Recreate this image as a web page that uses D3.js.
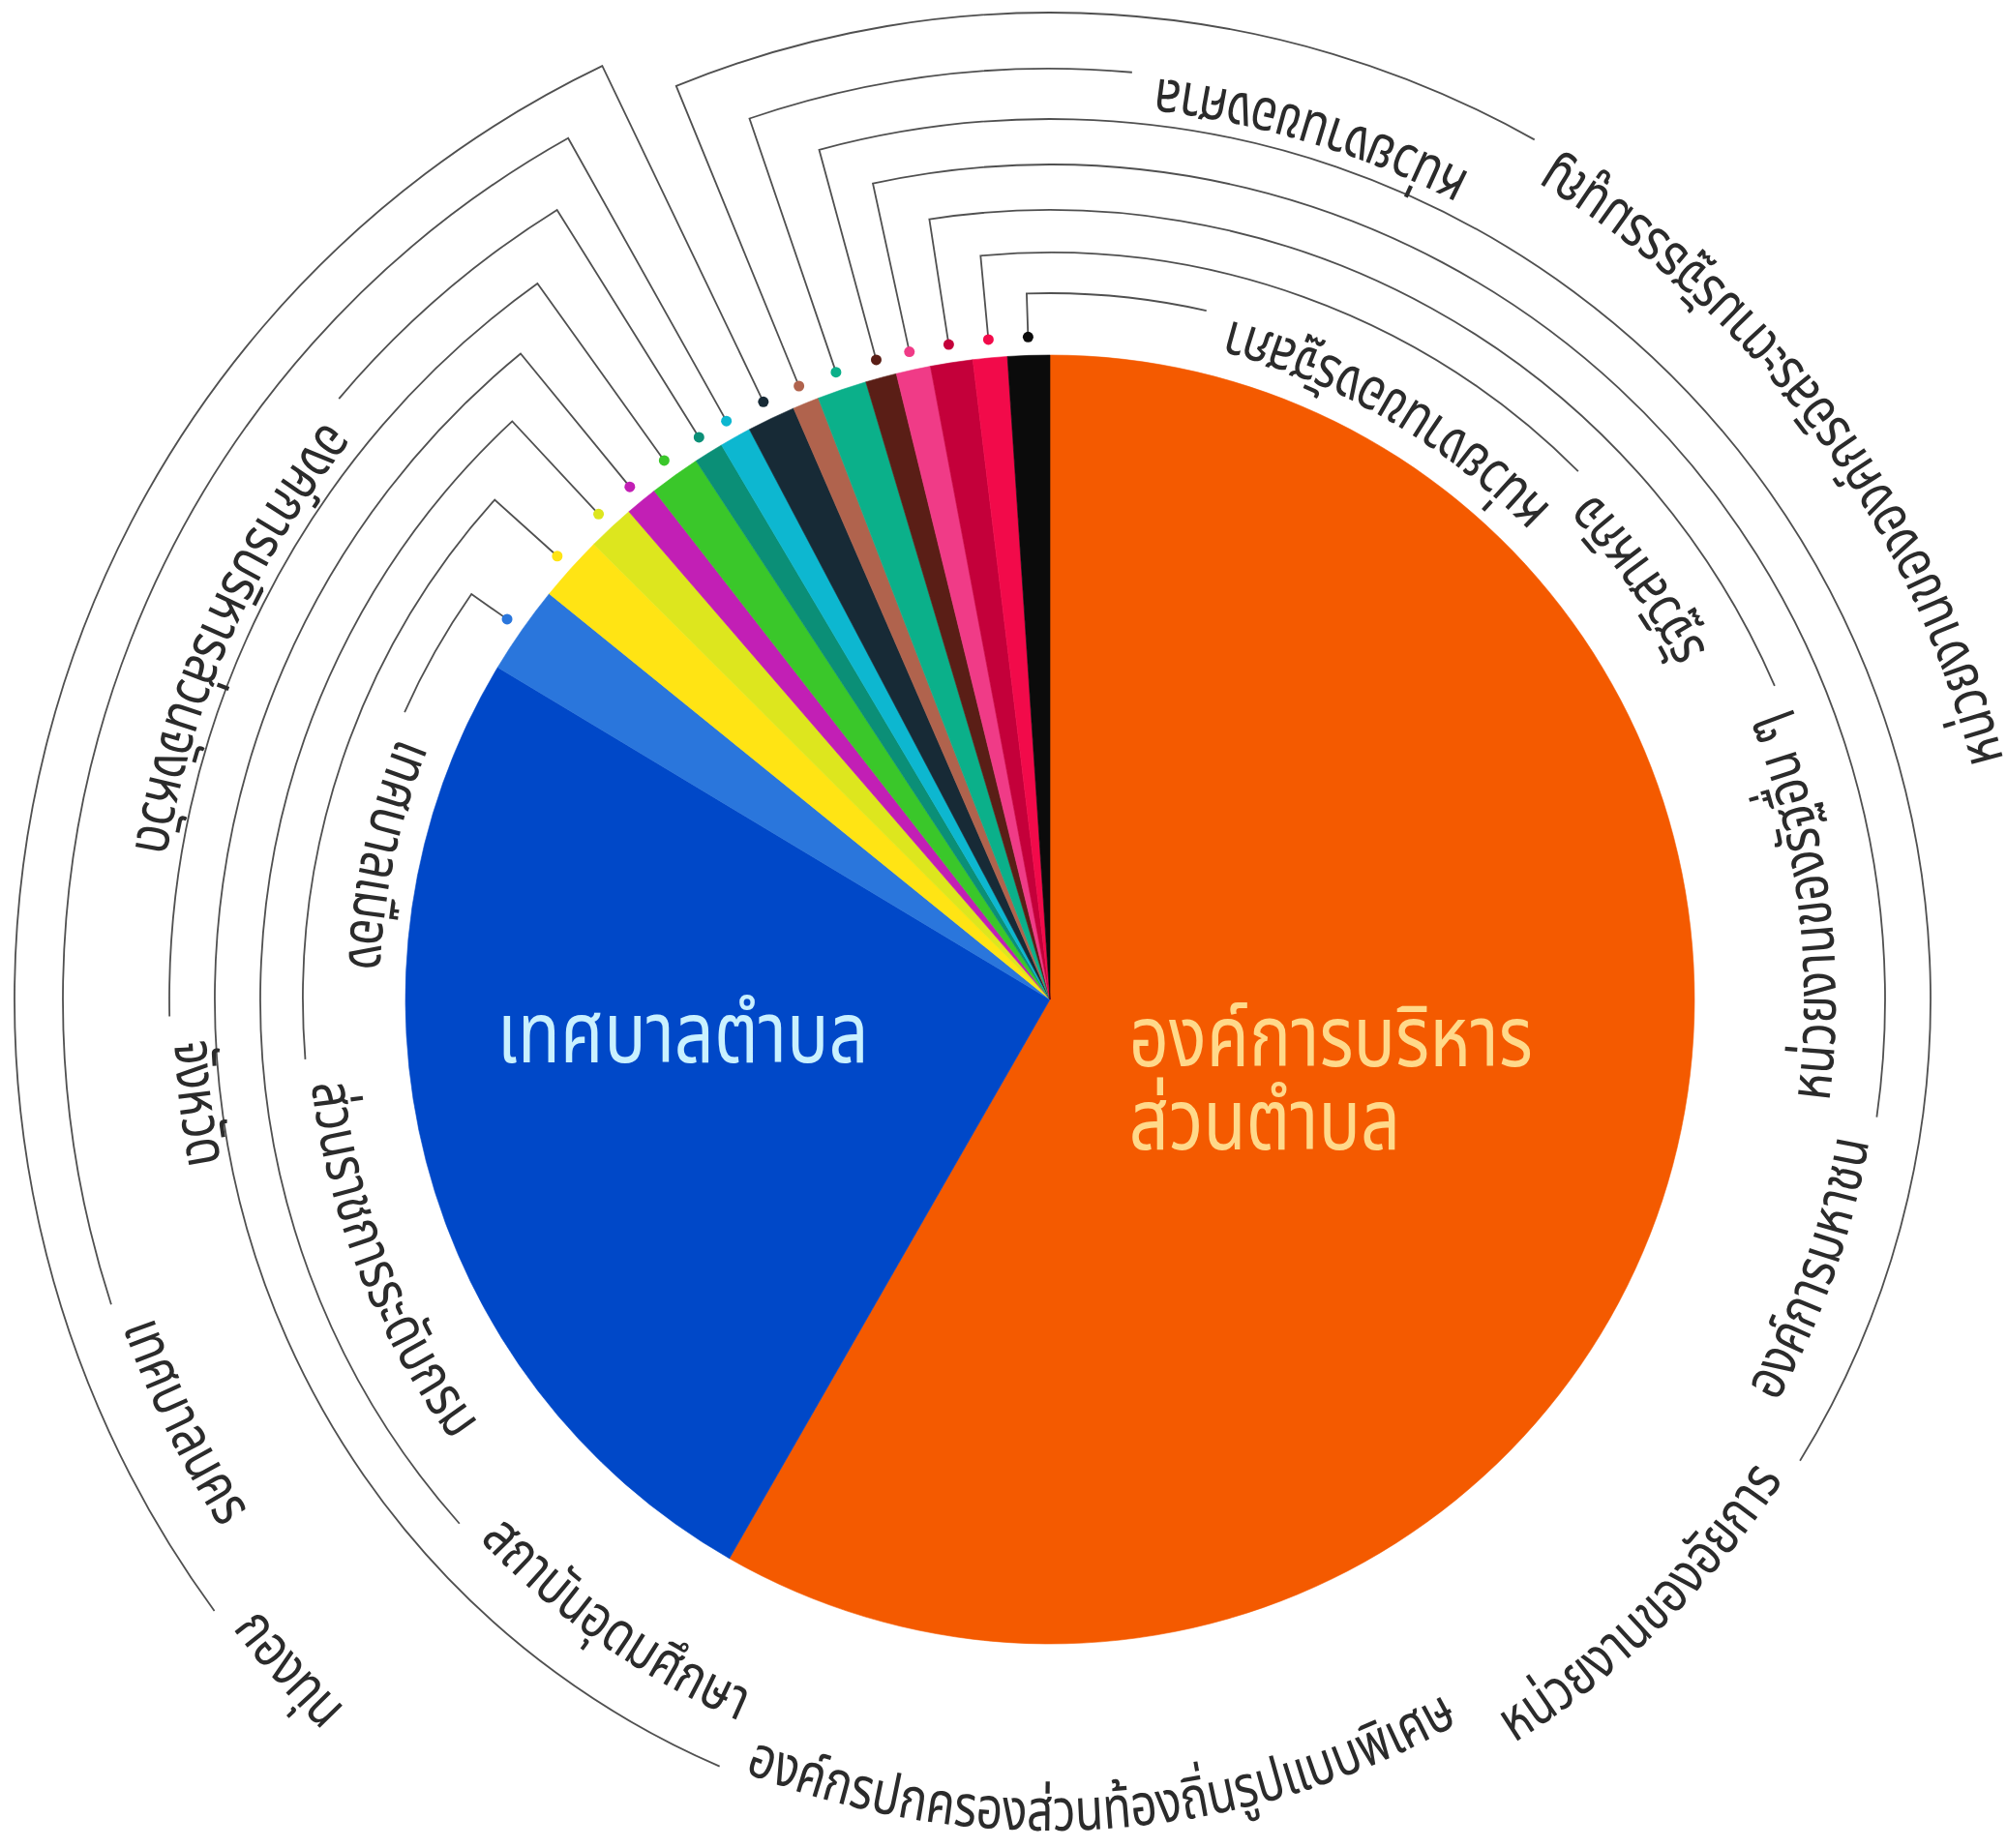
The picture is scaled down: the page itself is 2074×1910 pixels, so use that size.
<!DOCTYPE html>
<html><head><meta charset="utf-8">
<script src="https://cdn.jsdelivr.net/npm/d3@7"></script>
<style>
html,body{margin:0;padding:0;background:#fff;}
svg{display:block;}
text{font-family:"Noto Sans Thai","Noto Sans Thai UI","Noto Sans Thai Looped","Loma","Garuda","Noto Sans",sans-serif;}
</style></head><body>
<svg id="chart" width="2074" height="1910"></svg>
<script>
// ---------- data ----------
const categories = [
  "องค์การบริหารส่วนตำบล","เทศบาลตำบล","เทศบาลเมือง","ส่วนราชการระดับกรม",
  "สถาบันอุดมศึกษา","องค์กรปกครองส่วนท้องถิ่นรูปแบบพิเศษ","จังหวัด",
  "องค์การบริหารส่วนจังหวัด","เทศบาลนคร","กองทุน",
  "หน่วยงานขององค์กรอิสระตามรัฐธรรมนูญ","หน่วยงานของศาล","หน่วยงานของอัยการ",
  "องค์การมหาชน","หน่วยงานของรัฐอื่น ๆ","รัฐวิสาหกิจ","หน่วยงานของรัฐสภา"
];
const values = [58.28,25.33,2.22,1.65,1.18,0.81,1.27,0.74,0.79,1.21,0.66,1.24,0.78,0.86,1.06,0.86,1.05];
const innerLabelLines = [["องค์การบริหาร","ส่วนตำบล"],["เทศบาลตำบล"]];

// ---------- styles / layout ----------
const colors = ["#f45a00","#0048c8","#2a76dc","#ffe414","#dde61e","#c21fb5","#3ac72a","#0b8f77",
  "#0db7d0","#172a36","#b0634d","#0bb08a","#5a1e16","#f03b87","#c4003a","#f20a4a","#0b0b0b"];
const innerColors = ["#ffd98a","#c9f1ff"];
// ring index and angle (deg, clockwise from top) where each leader arc ends
const leaderLayout = [null,null,
  {ring:0,end:-66.0},{ring:1,end:-94.6},{ring:2,end:-131.6},{ring:3,end:-156.7},
  {ring:4,end:-91.1},{ring:5,end:-49.8},{ring:6,end:-108.0},{ring:7,end:-126.2},
  {ring:6,end:29.4},{ring:5,end:5.06},{ring:4,end:121.6},{ring:3,end:98.1},
  {ring:2,end:66.6},{ring:1,end:45.0},{ring:0,end:12.8}];
const ringRadii = [730,772,816,863,910,962,1020,1070];
// labels are drawn in a tall, condensed style: measured at widthSize, drawn at heightSize
const labelWidthSize = 48, labelHeightSize = 60;
const innerWidthSize = 72, innerHeightSize = 88;

const cx=1085, cy=1033, R=666;
const svg = d3.select("#chart");
const g = svg.append("g").attr("transform",`translate(${cx},${cy})`);

const pie = d3.pie().sort(null).value(d=>d);
const arcs = pie(values);
const arcGen = d3.arc().innerRadius(0).outerRadius(R);

g.selectAll("path.slice").data(arcs).join("path")
  .attr("class","slice").attr("d",arcGen)
  .attr("fill",(d,i)=>colors[i]).attr("stroke",(d,i)=>colors[i]).attr("stroke-width",0.6);

const toDeg = r=>r*180/Math.PI;
function pt(theta,r){const t=theta*Math.PI/180;return [r*Math.sin(t),-r*Math.cos(t)];}
function phi(theta){return (theta-90)*Math.PI/180;}

const leaders = g.append("g");
const labels = g.append("g");

arcs.forEach((a,i)=>{
  const L = leaderLayout[i];
  if(!L) return;
  let mid = toDeg((a.startAngle+a.endAngle)/2); if(mid>180) mid-=360;
  const rr = ringRadii[L.ring];
  const p = d3.path();
  const p0 = pt(mid,R+19), p1 = pt(mid,rr);
  p.moveTo(p0[0],p0[1]); p.lineTo(p1[0],p1[1]);
  const ccw = L.end<mid;
  p.arc(0,0,rr,phi(mid),phi(L.end),ccw);
  leaders.append("path").attr("d",p.toString()).attr("fill","none")
    .attr("stroke","#505050").attr("stroke-width",1.8);
  leaders.append("circle").attr("cx",p0[0]).attr("cy",p0[1]).attr("r",5.5).attr("fill",colors[i]);

  const rt = rr-4;
  const gap = toDeg(26/rr);
  const tp = d3.path();
  let anchor, off;
  if(ccw){
    const s=L.end-gap; const q=pt(s,rt);
    tp.moveTo(q[0],q[1]); tp.arc(0,0,rt,phi(s),phi(s-300),true);
    anchor="start"; off="0%";
  } else {
    const e=L.end+gap; const q=pt(e+300,rt);
    tp.moveTo(q[0],q[1]); tp.arc(0,0,rt,phi(e+300),phi(e),true);
    anchor="end"; off="100%";
  }
  const id="lp"+i;
  g.append("path").attr("id",id).attr("d",tp.toString()).attr("fill","none").attr("stroke","none");
  const te = labels.append("text").attr("font-size",labelWidthSize).attr("fill","#2b2b2b").attr("text-anchor",anchor);
  const tpe = te.append("textPath").attr("href","#"+id).attr("startOffset",off).text(categories[i]);
  const len = tpe.node().getComputedTextLength();
  te.attr("font-size",labelHeightSize);
  tpe.attr("textLength",len).attr("lengthAdjust","spacingAndGlyphs");
});

function condense(sel){
  const len = sel.node().getComputedTextLength();
  sel.attr("font-size",innerHeightSize).attr("textLength",len).attr("lengthAdjust","spacingAndGlyphs");
}
// inner labels
const cArc = d3.arc().innerRadius(0).outerRadius(R);
{
  const c = cArc.centroid(arcs[1]);
  const t = g.append("text").attr("font-size",innerWidthSize).attr("fill",innerColors[1]).attr("text-anchor","middle")
    .attr("x",c[0]-57).attr("y",c[1]-19).text(innerLabelLines[1][0]);
  condense(t);
}
{
  const c = cArc.centroid(arcs[0]);
  innerLabelLines[0].forEach((s,k)=>{
    const t = g.append("text").attr("font-size",innerWidthSize).attr("fill",innerColors[0])
      .attr("x",c[0]-240).attr("y",c[1]-17+k*86).text(s);
    condense(t);
  });
}
</script>
</body></html>
